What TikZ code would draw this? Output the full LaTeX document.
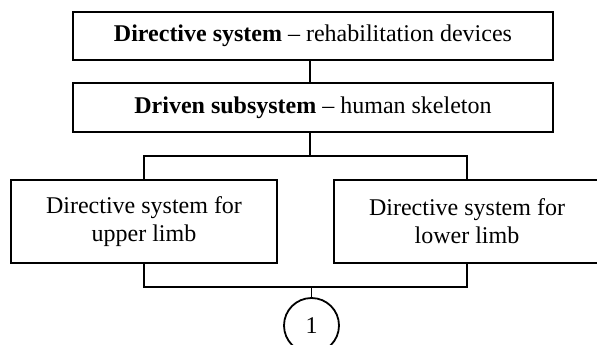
\documentclass[tikz,border=0pt]{standalone}
\usepackage{fontspec}
\setmainfont{Liberation Serif}
\begin{document}
\begin{tikzpicture}[x=1pt,y=-1pt,
  line width=1.8pt,
  every node/.style={font=\fontsize{24}{28}\selectfont},
  box/.style={draw, rectangle, inner sep=0pt, align=center},
  num/.style={draw, circle, inner sep=0pt, minimum size=55pt}]
  \useasboundingbox (0,0) rectangle (597,345);

  % two stacked system boxes
  \node[box, minimum width=480pt, minimum height=48pt] (sys) at (313,36)
    {\textbf{Directive system} -- rehabilitation devices};
  \node[box, minimum width=480pt, minimum height=49pt] (sub) at (313,107.5)
    {\textbf{Driven subsystem} -- human skeleton};

  % limb branches
  \node[box, minimum width=266pt, minimum height=83pt] (upper) at (144,221.5)
    {Directive system for\\upper limb};
  \node[box, minimum width=266pt, minimum height=83pt] (lower) at (467,221.5)
    {Directive system for\\lower limb};

  % connector to the next page
  \node[num] (one) at (311.5,325.5) {1};

  \coordinate (split) at (310,156);
  \coordinate (join) at (311.5,287);

  \draw (sys.south -| split) -- (sub.north -| split);
  \draw (sub.south -| split) -- (split);
  \draw (upper.north) |- (split) -| (lower.north);
  \draw (upper.south) |- (join) -| (lower.south);
  \draw (join) -- (one.north);
\end{tikzpicture}
\end{document}
